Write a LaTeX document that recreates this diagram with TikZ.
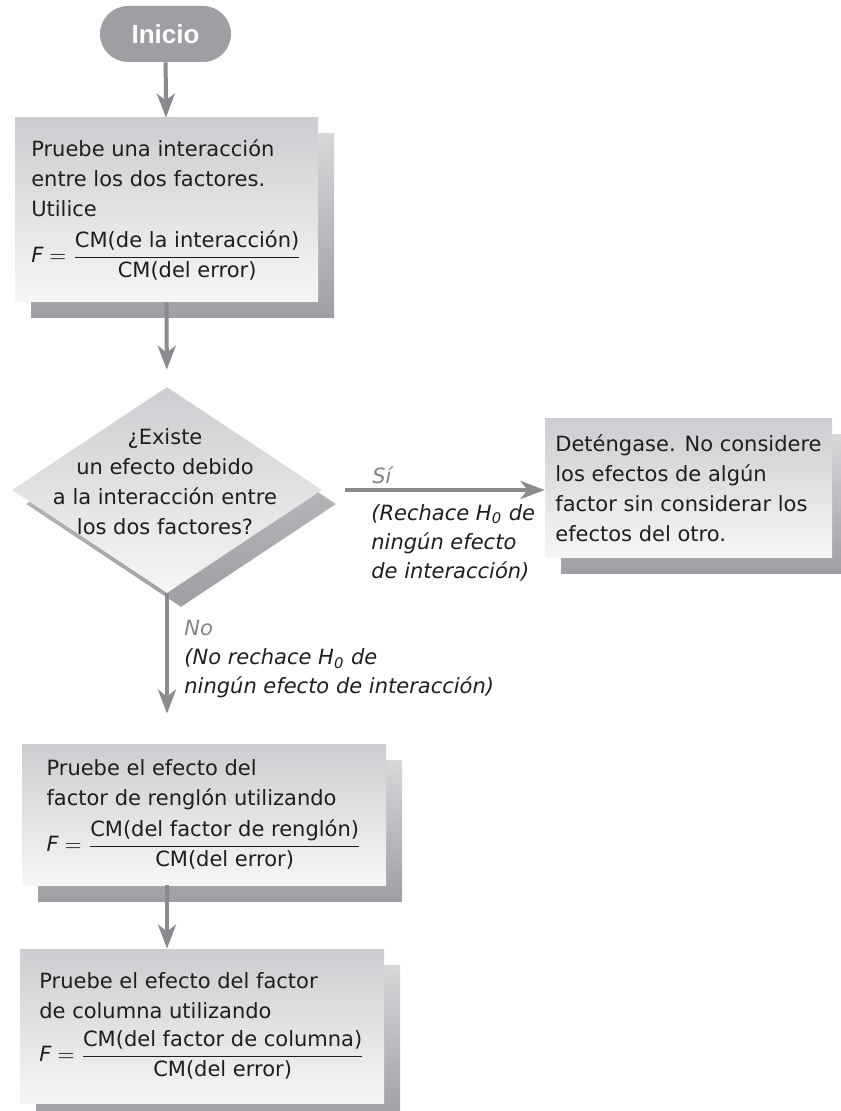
\documentclass[tikz,border=0pt]{standalone}
\usepackage{amsmath}
\usepackage{fontspec}
\setmainfont{DejaVu Sans}
\newfontfamily\startfont{Liberation Sans}
\usetikzlibrary{arrows.meta,shapes.geometric,shadows}

\definecolor{arrowgray}{RGB}{138,139,143}
\definecolor{startgray}{RGB}{158,159,163}
\definecolor{boxtop}{RGB}{204,205,208}
\definecolor{boxbot}{RGB}{246,246,246}
\definecolor{shadetop}{RGB}{214,215,217}
\definecolor{shadebot}{RGB}{158,159,163}
\definecolor{labelgray}{RGB}{130,131,135}
\definecolor{inkgray}{RGB}{30,30,30}

\begin{document}
\begin{tikzpicture}[x=0.5pt,y=-0.5pt,>={Stealth[length=12pt,width=9pt,inset=3.5pt]},
  flow/.style={->,draw=arrowgray,line width=2pt},
  startbox/.style={rectangle, rounded corners=14pt, fill=startgray, text=white, minimum width=65.5pt, minimum height=28pt, font=\startfont\fontsize{13}{15}\selectfont\bfseries},
  stepbox/.style={rectangle, inner sep=0pt, align=left, text=inkgray, top color=boxtop, bottom color=boxbot, font=\fontsize{10.5}{15}\selectfont, general shadow={shadow xshift=8pt, shadow yshift=-8pt, top color=shadetop, bottom color=shadebot}},
  decision/.style={diamond, inner sep=0pt, minimum width=155pt, minimum height=103pt, top color=boxtop, bottom color=boxbot, general shadow={shadow xshift=7pt, shadow yshift=-7pt, top color=shadetop!70!shadebot, bottom color=shadebot}},
  decisiontext/.style={align=center, inner sep=0pt, text=inkgray, font=\fontsize{10.5}{15}\selectfont},
  answer/.style={align=left, inner sep=0pt, text=inkgray, font=\itshape\fontsize{10.5}{14.5}\selectfont}
]
\useasboundingbox (0,0) rectangle (840,1111);

\node[startbox] (inicio) at (165.5,34) {Inicio};
\node[stepbox, minimum width=151.5pt, minimum height=92pt] (interac) at (166.5,210)
  {Pruebe una interacción\\ entre los dos factores.\\ Utilice\\[6pt]
   $\textit{F} = \dfrac{\text{CM(de la interacción)}}{\text{CM(del error)}}$};
\node[decision] (cond) at (167,490) {};
\node[decisiontext] (condtext) at (165,482) {¿Existe\\ un efecto debido\\ a la interacción entre\\ los dos factores?};
\node[stepbox, minimum width=143.5pt, minimum height=69pt] (alto) at (688.5,488)
  {Deténgase. No considere\\ los efectos de algún\\ factor sin considerar los\\ efectos del otro.};
\node[stepbox, minimum width=182pt, minimum height=70.5pt] (renglon) at (204,814.5)
  {Pruebe el efecto del\\ factor de renglón utilizando\\[4pt]
   $\textit{F} = \dfrac{\text{CM(del factor de renglón)}}{\text{CM(del error)}}$};
\node[stepbox, minimum width=182pt, minimum height=77pt] (columna) at (202,1026)
  {Pruebe el efecto del factor\\ de columna utilizando\\[5pt]
   $\textit{F} = \dfrac{\text{CM(del factor de columna)}}{\text{CM(del error)}}$};

% respuestas
\node[answer, anchor=south west, text=labelgray] (si) at (372,484) {Sí};
\node[answer, anchor=north west] (sinota) at (371,504) {(Rechace H\textsubscript{0} de\\ ningún efecto\\ de interacción)};
\node[answer, anchor=north west] (nonota) at (184,620) {\textcolor{labelgray}{No}\\ (No rechace H\textsubscript{0} de\\ ningún efecto de interacción)};

\draw[flow] (inicio) -- (interac);
\draw[flow, shorten >=8.5pt] (interac) -- (cond);
\draw[flow, shorten <=11.5pt] (cond.east) -- (cond.east -| alto.west);
\draw[flow, shorten >=15pt] (cond.south) -- (cond.south |- renglon.north);
\draw[flow] (renglon.south -| cond.south) -- (columna.north -| cond.south);
\end{tikzpicture}
\end{document}
